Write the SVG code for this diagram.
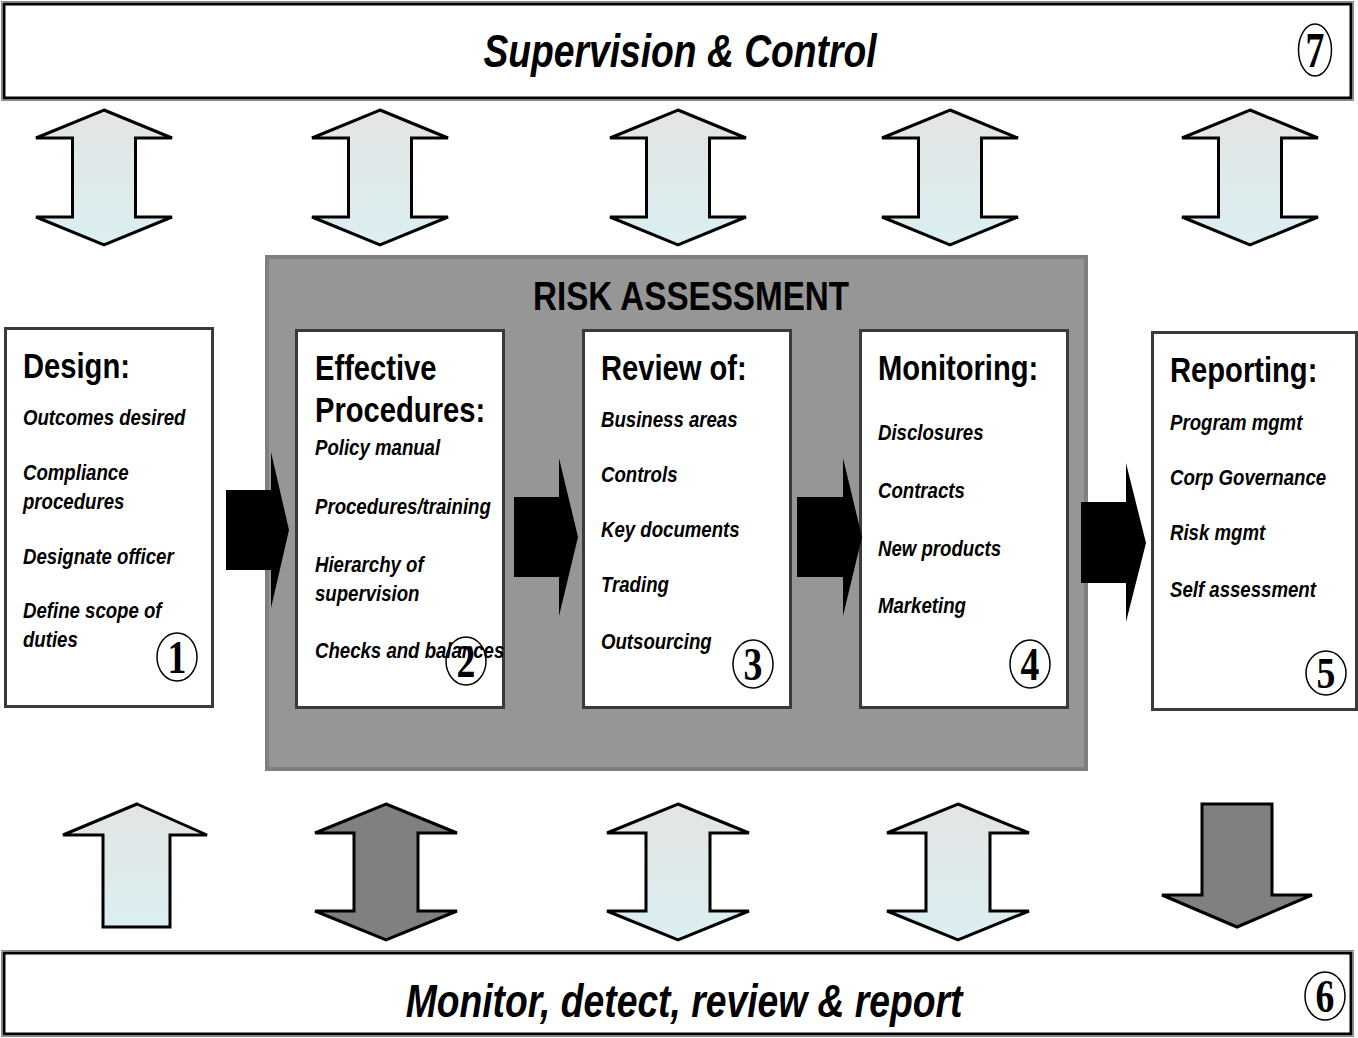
<svg xmlns="http://www.w3.org/2000/svg" width="1358" height="1038" viewBox="0 0 1358 1038">
  <style>
    .t { font-family: "Liberation Sans", Arial, sans-serif; fill: #000; }
    .title { font-size: 46px; font-weight: bold; font-style: italic; }
    .head { font-size: 36px; font-weight: bold; }
    .item { font-size: 23px; font-weight: bold; font-style: italic; }
    .num { font-family: "Liberation Serif", "Times New Roman", serif; font-size: 42px; font-weight: bold; fill: #000; text-anchor: middle; }
    .ring { fill: none; stroke: #000; stroke-width: 1.5; }
    .card { fill: #fff; stroke: #3a3a3a; stroke-width: 3; }
    .band { fill: #fff; stroke: #000; stroke-width: 3; }
    .bandEdge { fill: none; stroke: #8a8a8a; stroke-width: 1; }
    .light { fill: url(#lightFill); stroke: #000; stroke-width: 3; stroke-linejoin: miter; }
    .dark { fill: #808080; stroke: #000; stroke-width: 3; stroke-linejoin: miter; }
    .flow { fill: #000; }
  </style>
  <defs>
    <linearGradient id="lightFill" x1="0" y1="0" x2="0" y2="1">
      <stop offset="0" stop-color="#e4e4e4"/>
      <stop offset="1" stop-color="#daeff1"/>
    </linearGradient>
    <!-- double-headed vertical arrows, centred on x=0, starting at y=0 -->
    <path id="dbl" d="M0,0 L68,28 L31.5,28 L31.5,107 L68,107 L0,135 L-68,107 L-31.5,107 L-31.5,28 L-68,28 Z"/>
    <path id="dblLow" d="M0,0 L71,29 L32,29 L32,107 L71,107 L0,136 L-71,107 L-32,107 L-32,29 L-71,29 Z"/>
  </defs>

  <!-- top band -->
  <g id="supervision">
    <rect class="bandEdge" x="1.5" y="1.5" width="1352" height="99"/>
    <rect class="band" x="4" y="4" width="1347" height="94"/>
    <text class="t title" text-anchor="middle" transform="matrix(0.81 0 0 1 680 67)">Supervision &amp; Control</text>
    <ellipse class="ring" cx="1315" cy="50" rx="16.5" ry="26"/>
    <text class="num" transform="matrix(0.9 0 0 1.2 1315 67)">7</text>
  </g>

  <!-- bottom band -->
  <g id="monitor">
    <rect class="bandEdge" x="1.5" y="950.5" width="1352" height="86"/>
    <rect class="band" x="4" y="953" width="1347" height="81"/>
    <text class="t title" text-anchor="middle" transform="matrix(0.81 0 0 1 684 1017)">Monitor, detect, review &amp; report</text>
    <ellipse class="ring" cx="1325" cy="996" rx="20" ry="24"/>
    <text class="num" transform="matrix(0.9 0 0 1.1 1325 1012)">6</text>
  </g>

  <!-- risk assessment container -->
  <g id="risk-assessment">
    <rect x="267" y="257" width="819" height="512" fill="#969696" stroke="#7f7f7f" stroke-width="4"/>
    <text class="t" font-size="41" font-weight="bold" text-anchor="middle" transform="matrix(0.81 0 0 1 691 310)">RISK ASSESSMENT</text>
  </g>

  <g id="design">
    <rect class="card" x="5.5" y="328.5" width="207" height="378"/>
    <text class="t head" transform="matrix(0.81 0 0 1 23 378)">Design:</text>
    <text class="t item" transform="matrix(0.81 0 0 1 23 425)">Outcomes desired</text>
    <text class="t item" transform="matrix(0.81 0 0 1 23 480)">Compliance</text>
    <text class="t item" transform="matrix(0.81 0 0 1 23 509)">procedures</text>
    <text class="t item" transform="matrix(0.81 0 0 1 23 564)">Designate officer</text>
    <text class="t item" transform="matrix(0.81 0 0 1 23 618)">Define scope of</text>
    <text class="t item" transform="matrix(0.81 0 0 1 23 647)">duties</text>
    <ellipse class="ring" cx="177" cy="657" rx="20" ry="24"/>
    <text class="num" transform="matrix(0.9 0 0 1.1 177 673)">1</text>
  </g>

  <g id="procedures">
    <rect class="card" x="296.5" y="330.5" width="207" height="377"/>
    <text class="t head" transform="matrix(0.81 0 0 1 315 380)">Effective</text>
    <text class="t head" transform="matrix(0.81 0 0 1 315 422)">Procedures:</text>
    <text class="t item" transform="matrix(0.81 0 0 1 315 455)">Policy manual</text>
    <text class="t item" transform="matrix(0.81 0 0 1 315 514)">Procedures/training</text>
    <text class="t item" transform="matrix(0.81 0 0 1 315 572)">Hierarchy of</text>
    <text class="t item" transform="matrix(0.81 0 0 1 315 601)">supervision</text>
    <text class="t item" transform="matrix(0.81 0 0 1 315 658)">Checks and balances</text>
    <ellipse class="ring" cx="466" cy="661" rx="20" ry="24"/>
    <text class="num" transform="matrix(0.9 0 0 1.1 466 677)">2</text>
  </g>

  <g id="review">
    <rect class="card" x="583.5" y="330.5" width="207" height="377"/>
    <text class="t head" transform="matrix(0.81 0 0 1 601 380)">Review of:</text>
    <text class="t item" transform="matrix(0.81 0 0 1 601 427)">Business areas</text>
    <text class="t item" transform="matrix(0.81 0 0 1 601 482)">Controls</text>
    <text class="t item" transform="matrix(0.81 0 0 1 601 537)">Key documents</text>
    <text class="t item" transform="matrix(0.81 0 0 1 601 592)">Trading</text>
    <text class="t item" transform="matrix(0.81 0 0 1 601 649)">Outsourcing</text>
    <ellipse class="ring" cx="753" cy="664" rx="20" ry="24"/>
    <text class="num" transform="matrix(0.9 0 0 1.1 753 680)">3</text>
  </g>

  <g id="monitoring">
    <rect class="card" x="860.5" y="330.5" width="207" height="377"/>
    <text class="t head" transform="matrix(0.81 0 0 1 878 380)">Monitoring:</text>
    <text class="t item" transform="matrix(0.81 0 0 1 878 440)">Disclosures</text>
    <text class="t item" transform="matrix(0.81 0 0 1 878 498)">Contracts</text>
    <text class="t item" transform="matrix(0.81 0 0 1 878 556)">New products</text>
    <text class="t item" transform="matrix(0.81 0 0 1 878 613)">Marketing</text>
    <ellipse class="ring" cx="1030" cy="664" rx="20" ry="24"/>
    <text class="num" transform="matrix(0.9 0 0 1.1 1030 680)">4</text>
  </g>

  <g id="reporting">
    <rect class="card" x="1152.5" y="332.5" width="204" height="377"/>
    <text class="t head" transform="matrix(0.81 0 0 1 1170 382)">Reporting:</text>
    <text class="t item" transform="matrix(0.81 0 0 1 1170 430)">Program mgmt</text>
    <text class="t item" transform="matrix(0.81 0 0 1 1170 485)">Corp Governance</text>
    <text class="t item" transform="matrix(0.81 0 0 1 1170 540)">Risk mgmt</text>
    <text class="t item" transform="matrix(0.81 0 0 1 1170 597)">Self assessment</text>
    <ellipse class="ring" cx="1326" cy="673" rx="20" ry="22"/>
    <text class="num" transform="matrix(0.9 0 0 1.05 1326 688)">5</text>
  </g>

  <g id="connectors">
    <!-- flow arrows between stages -->
    <path class="flow" d="M226,490 H271 V452 L289,530 L271,608 V570 H226 Z"/>
    <path class="flow" d="M514,497 H559 V458 L578,537 L559,616 V577 H514 Z"/>
    <path class="flow" d="M797,497 H843 V458 L862,537 L843,616 V577 H797 Z"/>
    <path class="flow" d="M1081,502 H1126 V463 L1146,543 L1126,622 V583 H1081 Z"/>

    <!-- links to supervision band -->
    <use href="#dbl" class="light" x="104" y="110"/>
    <use href="#dbl" class="light" x="380" y="110"/>
    <use href="#dbl" class="light" x="678" y="110"/>
    <use href="#dbl" class="light" x="950" y="110"/>
    <use href="#dbl" class="light" x="1250" y="110"/>

    <!-- links to monitoring band -->
    <path class="light" d="M137,804 L207,835 L170,835 L170,927 L103,927 L103,835 L63,835 Z"/>
    <use href="#dblLow" class="dark" x="386" y="804"/>
    <use href="#dblLow" class="light" x="678" y="804"/>
    <use href="#dblLow" class="light" x="958" y="804"/>
    <path class="dark" d="M1202,804 L1272,804 L1272,895 L1312,895 L1237,927 L1162,895 L1202,895 Z"/>
  </g>
</svg>
